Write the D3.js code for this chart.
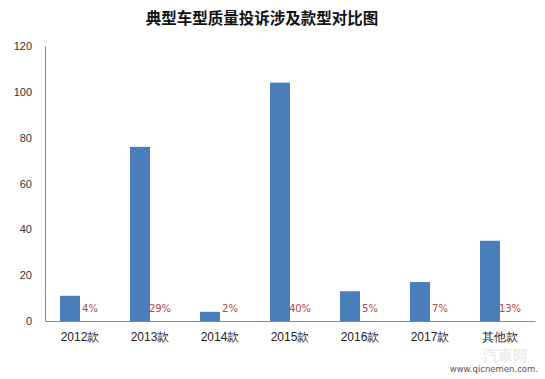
<!DOCTYPE html>
<html>
<head>
<meta charset="utf-8">
<script src="https://cdn.jsdelivr.net/npm/d3@7"></script>
<style>
  body { margin: 0; background: #fff; }
  svg { display: block; font-family: "Noto Sans CJK SC", "Liberation Sans", sans-serif; }
</style>
</head>
<body>
<svg width="545" height="379"></svg>
<script>
// data
const categories = ['2012款', '2013款', '2014款', '2015款', '2016款', '2017款', '其他款'];
const counts = [11, 76, 4, 104, 13, 17, 35];
const shares = ['4%', '29%', '2%', '40%', '5%', '7%', '13%'];
const yTicks = [0, 20, 40, 60, 80, 100, 120];

var svg = d3.select('svg'),
    width = +svg.attr('width'),
    height = +svg.attr('height');

const plotLeft = 45, plotRight = 535, plotTop = 46, plotBottom = 321;

var x = d3.scaleBand().domain(categories).range([plotLeft, plotRight]);
var inner = d3.scaleBand().domain(['count', 'share'])
              .range([0, x.bandwidth()]).paddingInner(0).paddingOuter(0.75);
var y = d3.scaleLinear().domain([0, 120]).range([plotBottom, plotTop]);

// title
svg.append('text')
   .attr('x', 262).attr('y', 24)
   .attr('text-anchor', 'middle')
   .attr('font-size', 15.5).attr('font-weight', 700)
   .attr('fill', '#111')
   .text('典型车型质量投诉涉及款型对比图');

// y axis
var yAxis = svg.append('g')
   .attr('transform', 'translate(' + plotLeft + ',0)')
   .call(d3.axisLeft(y).tickValues(yTicks).tickSize(0).tickPadding(13));
yAxis.select('.domain').attr('stroke', '#8a8a8a');
yAxis.selectAll('text')
   .attr('font-family', '"Liberation Sans", sans-serif')
   .attr('font-size', 11).attr('fill', '#333');

// x axis
var xAxis = svg.append('g')
   .attr('transform', 'translate(0,' + plotBottom + ')')
   .call(d3.axisBottom(x).tickSize(0).tickPadding(11));
xAxis.select('.domain').attr('stroke', '#8a8a8a');
xAxis.selectAll('text')
   .attr('font-size', 12).attr('fill', '#222');

// bars
svg.append('g')
   .selectAll('rect')
   .data(counts)
   .enter().append('rect')
   .attr('x', (d, i) => x(categories[i]) + inner('count'))
   .attr('y', d => y(d))
   .attr('width', inner.bandwidth())
   .attr('height', d => y(0) - y(d))
   .attr('fill', '#4a7ebb');

// share labels next to bars
svg.append('g')
   .selectAll('text')
   .data(shares)
   .enter().append('text')
   .attr('x', (d, i) => x(categories[i]) + inner('share') + inner.bandwidth() / 2)
   .attr('y', y(0) - 9)
   .attr('text-anchor', 'middle')
   .attr('font-family', '"DejaVu Sans", sans-serif')
   .attr('font-size', 10)
   .attr('fill', '#b5474a')
   .text(d => d);

// watermark
svg.append('text')
   .attr('x', 505).attr('y', 361)
   .attr('text-anchor', 'middle')
   .attr('font-size', 15).attr('font-weight', 700)
   .attr('fill', '#ececec')
   .text('汽車网');
svg.append('text')
   .attr('x', 538).attr('y', 372)
   .attr('text-anchor', 'end')
   .attr('font-family', '"DejaVu Sans", sans-serif')
   .attr('font-size', 8.5)
   .attr('fill', '#555')
   .text('www.qicnemen.com.');
</script>
</body>
</html>
